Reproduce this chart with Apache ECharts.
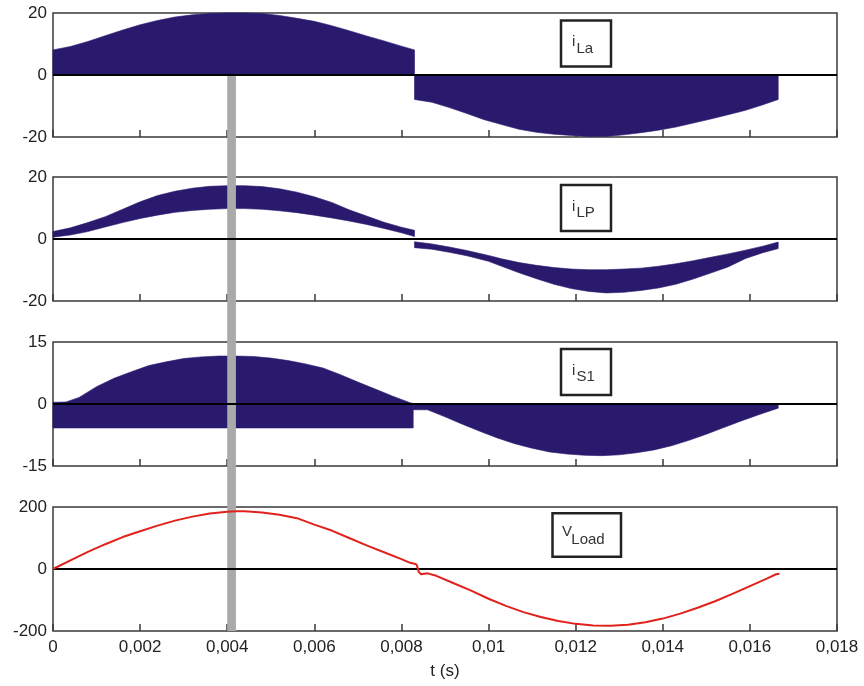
<!DOCTYPE html>
<html><head><meta charset="utf-8">
<script src="https://cdn.jsdelivr.net/npm/echarts@6/dist/echarts.min.js"></script>
<style>html,body{margin:0;padding:0;background:#fff}#c{width:864px;height:686px}</style>
</head><body><div id="c"></div>
<script>
// ---------- data ----------
const xTickLabels = ['0','0,002','0,004','0,006','0,008','0,01','0,012','0,014','0,016','0,018'];
const yTickLa = ['-20','0','20'];
const yTickLp = ['-20','0','20'];
const yTickS1 = ['-15','0','15'];
const yTickV  = ['-200','0','200'];
const panelNames = [['i','La'],['i','LP'],['i','S1'],['V','Load']];
const xLabel = 't (s)';

// i_La : filled from 0 to envelope
const tLaPos = [0,0.0004,0.0008,0.0012,0.0016,0.002,0.0024,0.0028,0.0032,0.0036,0.004,0.0044,0.0048,0.0052,0.0056,0.006,0.0064,0.0068,0.0072,0.0076,0.008,0.0083];
const iLaPos = [8.1,9.2,10.8,12.7,14.5,16.2,17.6,18.7,19.4,19.8,20,20,19.8,19.2,18.3,17.3,15.9,14.3,12.6,11,9.3,8.1];
const tLaNeg = [0.0083,0.0087,0.0091,0.0095,0.0099,0.0103,0.0107,0.0111,0.0115,0.0119,0.0123,0.0127,0.0131,0.0135,0.0139,0.0143,0.0147,0.0151,0.0155,0.0159,0.0163,0.01665];
const iLaNeg = [-7.9,-8.8,-10.5,-12.4,-14.4,-16,-17.5,-18.5,-19.1,-19.5,-19.8,-19.8,-19.3,-18.6,-17.8,-16.8,-15.5,-14.2,-12.8,-11.4,-9.6,-7.9];

// i_LP : band between lower and upper envelope
const tLpPos = [0,0.0004,0.0008,0.0012,0.0016,0.002,0.0024,0.0028,0.0032,0.0036,0.004,0.0044,0.0048,0.0052,0.0056,0.006,0.0064,0.0068,0.0072,0.0076,0.008,0.0083];
const iLpPosLo = [0.6,1.3,2.4,3.9,5.3,6.6,7.7,8.6,9.2,9.6,9.8,9.8,9.6,9.1,8.5,7.7,6.8,5.8,4.7,3.4,2.0,0.8];
const iLpPosHi = [2.4,3.6,5.3,7.2,9.6,12,14,15.4,16.4,17,17.2,17.2,16.9,16.2,15.1,13.6,11.8,9.4,7.4,5.4,3.8,2.8];
const tLpNeg = [0.0083,0.0087,0.0091,0.0095,0.01,0.0103,0.0107,0.0111,0.0115,0.0119,0.0123,0.0127,0.0131,0.0135,0.0139,0.0143,0.0147,0.0151,0.0155,0.0159,0.0163,0.01665];
const iLpNegHi = [-0.9,-1.6,-2.6,-3.7,-5.3,-6.4,-7.6,-8.5,-9.2,-9.7,-9.9,-9.9,-9.7,-9.4,-8.8,-8,-7,-5.9,-4.8,-3.6,-2.3,-1];
const iLpNegLo = [-2.8,-3.3,-4.3,-5.4,-7.2,-8.8,-10.9,-12.8,-14.6,-16,-16.9,-17.4,-17.2,-16.6,-15.8,-14.6,-12.9,-11,-9,-6.3,-4.4,-3.1];

// i_S1
const tS1Pos = [0,0.0003,0.0006,0.001,0.0014,0.0018,0.0022,0.0026,0.003,0.0034,0.0038,0.0042,0.0046,0.005,0.0054,0.0058,0.0062,0.0066,0.007,0.0074,0.0078,0.0082,0.00827];
const iS1PosHi = [0.4,0.5,1.6,4.2,6.2,7.8,9.3,10.2,11,11.4,11.6,11.6,11.5,11.1,10.5,9.7,8.7,7.1,5.3,3.6,1.9,0.3,0.1];
const iS1PosLo = -5.8;
const tS1Neg = [0.00827,0.0086,0.009,0.0094,0.0098,0.0102,0.0106,0.011,0.0114,0.0118,0.0122,0.0126,0.013,0.0134,0.0138,0.0142,0.0146,0.015,0.0154,0.0158,0.0162,0.01665];
const iS1NegLo = [-1.4,-1.4,-3.1,-4.9,-6.6,-8.2,-9.6,-10.7,-11.6,-12.1,-12.4,-12.5,-12.3,-11.8,-11.1,-10.1,-8.8,-7.3,-5.7,-4.1,-2.6,-1.0];
const iS1NegHi = -0.2;

// V_Load
const tV = [0,0.0004,0.0008,0.0012,0.0016,0.002,0.0024,0.0028,0.0032,0.0036,0.004,0.0042,0.0044,0.0048,0.0052,0.0056,0.006,0.0064,0.0068,0.0072,0.0076,0.008,0.0082,0.0083,0.00835,0.0084,0.00845,0.0086,0.0088,0.0092,0.0096,0.01,0.0104,0.0108,0.0112,0.0116,0.012,0.0124,0.0128,0.0132,0.0136,0.014,0.0144,0.0148,0.0152,0.0156,0.016,0.0164,0.0166,0.01668];
const vLoad = [0,28,55,80,103,122,140,156,169,179,185,186,186,182,175,164,143,124,100,76,54,32,20,17,14,-10,-17,-14,-22,-46,-70,-96,-119,-139,-155,-168,-177,-182,-183,-180,-172,-160,-144,-125,-104,-80,-55,-30,-17,-15];

const markerT = [0.0040, 0.0042];
const zeroLine = [[0,0],[0.018,0]];

// ---------- styling / layout ----------
const NAVY = '#2a1a6e', RED = '#e0211c', GRAY = '#aaaaaa', FRAME = '#3a3a3a', TXT = '#222';
const FONT = '"Liberation Sans", Arial, sans-serif';
const grids = [13,177,342,507].map(top => ({left:53, right:27, top:top, height:124, show:true, borderColor:FRAME, borderWidth:1.5, backgroundColor:'transparent'}));
const yRanges = [[-20,20,20,yTickLa],[-20,20,20,yTickLp],[-15,15,15,yTickS1],[-200,200,200,yTickV]];

function band(t, lo, hi){
  return t.map((x,i)=>[x, Array.isArray(lo)?lo[i]:lo, Array.isArray(hi)?hi[i]:hi]);
}
function bandSeries(g, data){
  return {
    type:'custom', xAxisIndex:g, yAxisIndex:g, z:2, silent:true,
    data:data, encode:{x:0, y:[1,2]},
    renderItem:function(params, api){
      if (params.dataIndex !== 0) return null;
      const pts = [];
      for (let i=0;i<data.length;i++) pts.push(api.coord([data[i][0], data[i][2]]));
      for (let i=data.length-1;i>=0;i--) pts.push(api.coord([data[i][0], data[i][1]]));
      return {type:'polygon', shape:{points:pts}, style:{fill:NAVY, stroke:NAVY, lineWidth:0.6}};
    }
  };
}

const xAxes = grids.map((g,i)=>({
  type:'value', gridIndex:i, min:0, max:0.018, interval:0.002,
  axisLine:{show:false, onZero:false},
  axisTick:{show:true, inside:true, length:7, lineStyle:{color:FRAME, width:1.5}},
  splitLine:{show:false},
  axisLabel:{show:i===3, margin:8, color:TXT, fontSize:17, fontFamily:FONT,
    formatter:v=>xTickLabels[Math.round(v/0.002)]},
  name: i===3 ? xLabel : '', nameLocation:'middle', nameGap:32,
  nameTextStyle:{color:TXT, fontSize:17, fontFamily:FONT}
}));
const yAxes = yRanges.map((r,i)=>({
  type:'value', gridIndex:i, min:r[0], max:r[1], interval:r[2],
  axisLine:{show:false}, axisTick:{show:false}, splitLine:{show:false},
  axisLabel:{margin:6, color:TXT, fontSize:17, fontFamily:FONT,
    formatter:v=>r[3][Math.round((v-r[0])/r[2])]}
}));

const series = [
  bandSeries(0, band(tLaPos, 0, iLaPos)),
  bandSeries(0, band(tLaNeg, iLaNeg, 0)),
  bandSeries(1, band(tLpPos, iLpPosLo, iLpPosHi)),
  bandSeries(1, band(tLpNeg, iLpNegLo, iLpNegHi)),
  bandSeries(2, band(tS1Pos, iS1PosLo, iS1PosHi)),
  bandSeries(2, band(tS1Neg, iS1NegLo, iS1NegHi)),
  {type:'line', xAxisIndex:3, yAxisIndex:3, data:tV.map((x,i)=>[x,vLoad[i]]), symbol:'none', z:6, silent:true,
   lineStyle:{color:RED, width:2}}
];
for (let g=0; g<4; g++) {
  series.push({type:'line', xAxisIndex:g, yAxisIndex:g, data:zeroLine, symbol:'none', z:5, silent:true,
    lineStyle:{color:'#000', width:2}});
}

const chart = echarts.init(document.getElementById('c'), null, {renderer:'canvas'});
chart.setOption({
  animation:false, backgroundColor:'#fff',
  grid:grids, xAxis:xAxes, yAxis:yAxes, series:series
});

// gray marker bar spanning panels (from zero of first panel to bottom of last)
const pTop = chart.convertToPixel({gridIndex:0}, [markerT[0], 0]);
const pBot = chart.convertToPixel({gridIndex:3}, [markerT[1], yRanges[3][0]]);

// label boxes
const boxes = [
  {x:561, y:20.5, w:50, h:46, mx:572, my:41.9, sx:576.5, sy:48.6},
  {x:561, y:185,  w:50, h:46, mx:572, my:206.4, sx:576.5, sy:213.1},
  {x:561, y:349,  w:50, h:46, mx:572, my:370.4, sx:576.5, sy:377.1},
  {x:552.5, y:513.3, w:68.5, h:43.4, mx:562, my:531.9, sx:571.3, sy:539.6}
];
const graphics = [{
  type:'rect', z:4, silent:true,
  shape:{x:pTop[0], y:pTop[1], width:pBot[0]-pTop[0], height:pBot[1]-pTop[1]},
  style:{fill:GRAY}
}];
boxes.forEach((b,i)=>{
  graphics.push({type:'rect', z:7, silent:true, shape:{x:b.x, y:b.y, width:b.w, height:b.h},
    style:{fill:'#fff', stroke:'#222', lineWidth:2.5}});
  graphics.push({type:'text', z:8, silent:true, x:b.mx, y:b.my,
    style:{text:panelNames[i][0], fill:'#333', font:'15px '+FONT, textAlign:'left', textVerticalAlign:'middle', verticalAlign:'middle'}});
  graphics.push({type:'text', z:8, silent:true, x:b.sx, y:b.sy,
    style:{text:panelNames[i][1], fill:'#333', font:'15px '+FONT, textAlign:'left', textVerticalAlign:'middle', verticalAlign:'middle'}});
});
chart.setOption({graphic:graphics});
</script></body></html>
